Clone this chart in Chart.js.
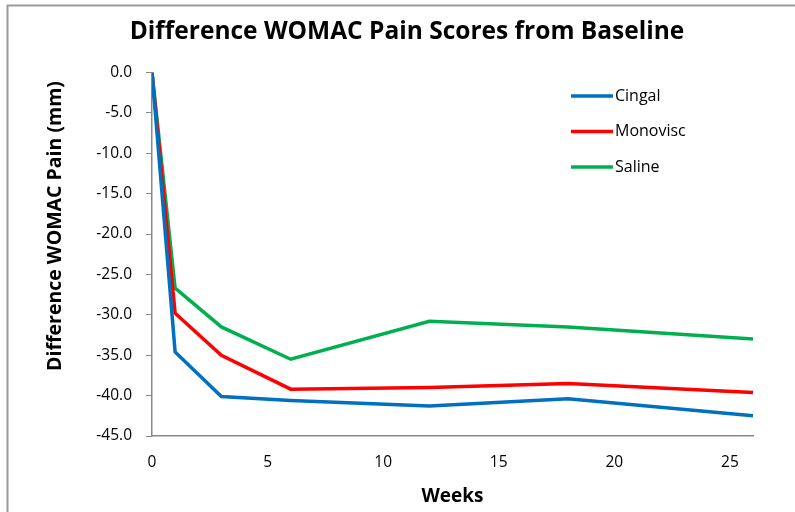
<!DOCTYPE html>
<html>
<head>
<meta charset="utf-8">
<script src="https://cdn.jsdelivr.net/npm/chart.js@4.4.1/dist/chart.umd.min.js"></script>
<style>
  html, body { margin: 0; padding: 0; background: #fff; }
  #wrap { position: relative; width: 795px; height: 512px; }
</style>
</head>
<body>
<div id="wrap"><canvas id="c" width="795" height="512"></canvas></div>
<script>
const weeks = [0, 1, 3, 6, 12, 18, 26];
const cingal = [0, -34.6, -40.1, -40.6, -41.3, -40.4, -42.5];
const monovisc = [0, -29.8, -35.0, -39.2, -39.0, -38.5, -39.6];
const saline = [0, -26.7, -31.5, -35.5, -30.8, -31.5, -33.0];
const xTickValues = [0, 5, 10, 15, 20, 25];
const seriesNames = ['Cingal', 'Monovisc', 'Saline'];
const seriesColors = ['#0070C0', '#FF0000', '#00B050'];
const titleText = 'Difference WOMAC Pain Scores from Baseline';
const yTitle = 'Difference WOMAC Pain (mm)';
const xTitle = 'Weeks';

const FONT = '"Open Sans", Lato, sans-serif';

function pts(vals) { return weeks.map((w, i) => ({ x: w, y: vals[i] })); }

const frame = {
  id: 'frame',
  beforeDraw(chart) {
    const ctx = chart.ctx;
    ctx.save();
    ctx.fillStyle = '#fff';
    ctx.fillRect(0, 0, chart.width, chart.height);
    ctx.strokeStyle = '#9a9a9a';
    ctx.lineWidth = 2;
    ctx.beginPath();
    ctx.moveTo(7.5, chart.height);
    ctx.lineTo(7.5, 5.5);
    ctx.lineTo(chart.width, 5.5);
    ctx.stroke();
    // chart title
    ctx.fillStyle = '#000';
    ctx.font = 'bold 24.5px ' + FONT;
    ctx.textAlign = 'center';
    ctx.textBaseline = 'alphabetic';
    ctx.fillText(titleText, 407, 39);
    // y-axis title
    ctx.save();
    ctx.translate(55, 226);
    ctx.rotate(-Math.PI / 2);
    ctx.font = 'bold 19.5px ' + FONT;
    ctx.textBaseline = 'middle';
    ctx.fillText(yTitle, 0, 0);
    ctx.restore();
    ctx.restore();
  }
};

const inlineLegend = {
  id: 'inlineLegend',
  afterDatasetsDraw(chart) {
    const ctx = chart.ctx;
    ctx.save();
    chart.data.datasets.forEach((ds, i) => {
      const y = 96 + i * 35.5;
      ctx.strokeStyle = ds.borderColor;
      ctx.lineWidth = 3.5;
      ctx.beginPath();
      ctx.moveTo(571, y);
      ctx.lineTo(613, y);
      ctx.stroke();
      ctx.fillStyle = '#000';
      ctx.font = '16px ' + FONT;
      ctx.textBaseline = 'middle';
      ctx.textAlign = 'left';
      ctx.fillText(ds.label, 615, y);
    });
    ctx.restore();
  }
};

new Chart(document.getElementById('c'), {
  type: 'line',
  data: {
    datasets: [
      { label: seriesNames[0], data: pts(cingal), borderColor: seriesColors[0] },
      { label: seriesNames[1], data: pts(monovisc), borderColor: seriesColors[1] },
      { label: seriesNames[2], data: pts(saline), borderColor: seriesColors[2] }
    ].map(d => Object.assign(d, { borderWidth: 3.5, pointRadius: 0, tension: 0, fill: false, backgroundColor: d.borderColor }))
  },
  options: {
    responsive: false,
    animation: false,
    layout: { padding: { top: 72.5, right: 42, left: 0, bottom: 0 } },
    plugins: {
      legend: { display: false },
      tooltip: { enabled: false },
      title: { display: false }
    },
    scales: {
      x: {
        type: 'linear',
        min: 0, max: 26,
        afterFit(s) { s.height = 76; },
        afterBuildTicks(s) { s.ticks = xTickValues.map(v => ({ value: v })); },
        ticks: { color: '#000', font: { family: FONT, size: 15.5 }, padding: 17, maxRotation: 0 },
        grid: { display: true, drawOnChartArea: false, drawTicks: false, color: '#888' },
        border: { display: true, color: '#888', width: 1.5 },
        title: { display: true, text: xTitle, color: '#000', font: { family: FONT, size: 19, weight: 'bold' }, padding: { top: 6 } }
      },
      y: {
        min: -45, max: 0,
        afterFit(s) { s.width = 152; },
        ticks: { stepSize: 5, color: '#000', font: { family: FONT, size: 15.5 }, padding: 14,
          callback: v => v.toFixed(1) },
        grid: { display: true, drawOnChartArea: false, drawTicks: true, tickLength: 6, color: '#888' },
        border: { display: true, color: '#888', width: 1.5 },
        title: { display: false }
      }
    }
  },
  plugins: [frame, inlineLegend]
});
</script>
</body>
</html>
